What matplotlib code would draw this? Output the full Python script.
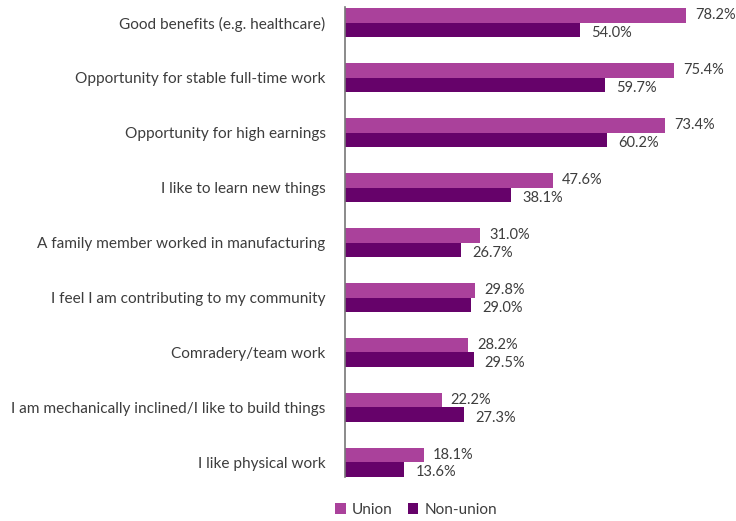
import numpy as np
import matplotlib.pyplot as plt

# Reasons for choosing manufacturing work, union vs non-union (%)
reasons = [
    "Good benefits (e.g. healthcare)",
    "Opportunity for stable full-time work",
    "Opportunity for high earnings",
    "I like to learn new things",
    "A family member worked in manufacturing",
    "I feel I am contributing to my community",
    "Comradery/team work",
    "I am mechanically inclined/I like to build things",
    "I like physical work",
]
union = [78.2, 75.4, 73.4, 47.6, 31.0, 29.8, 28.2, 22.2, 18.1]
non_union = [54.0, 59.7, 60.2, 38.1, 26.7, 29.0, 29.5, 27.3, 13.6]

c_union = "#AA419B"
c_non = "#66026A"
txt = "#3d3d3d"

plt.rcParams['font.family'] = ['Lato', 'DejaVu Sans']

fig = plt.figure(figsize=(7.36, 5.21), dpi=100)
ax = fig.add_axes([345 / 736, 44 / 521, 391 / 736, 470 / 521])

y = np.arange(len(reasons))
h = 0.265
b1 = ax.barh(y - h / 2, union, height=h, color=c_union, label="Union")
b2 = ax.barh(y + h / 2, non_union, height=h, color=c_non, label="Non-union")

for bar, v in zip(b1, union):
    ax.annotate(f"{v:.1f}%", (v, bar.get_y() + bar.get_height() / 2),
                xytext=(6.5, 0), textcoords="offset points",
                va="center", ha="left", fontsize=10.5, color=txt)
for bar, v in zip(b2, non_union):
    ax.annotate(f"{v:.1f}%", (v, bar.get_y() + bar.get_height() / 2),
                xytext=(8, -2), textcoords="offset points",
                va="center", ha="left", fontsize=10.5, color=txt)

ax.set_xlim(0, 391 / 4.36)
ax.set_ylim(8 + h, -h - 0.02)
ax.set_yticks(y)
ax.set_yticklabels(reasons, fontsize=11.1, color=txt)
ax.tick_params(axis="y", length=0, pad=14)
ax.set_xticks([])
for s in ["top", "right", "bottom"]:
    ax.spines[s].set_visible(False)
ax.spines["left"].set_color("#777777")
ax.spines["left"].set_linewidth(1.2)

fig.legend(handles=[b1, b2], loc="center", bbox_to_anchor=(416 / 736, 1 - 510 / 521),
           ncol=2, frameon=False, fontsize=11, handlelength=0.7, handleheight=0.7,
           handletextpad=0.4, columnspacing=1.0, labelcolor=txt)

fig.savefig("out.png", dpi=100)
